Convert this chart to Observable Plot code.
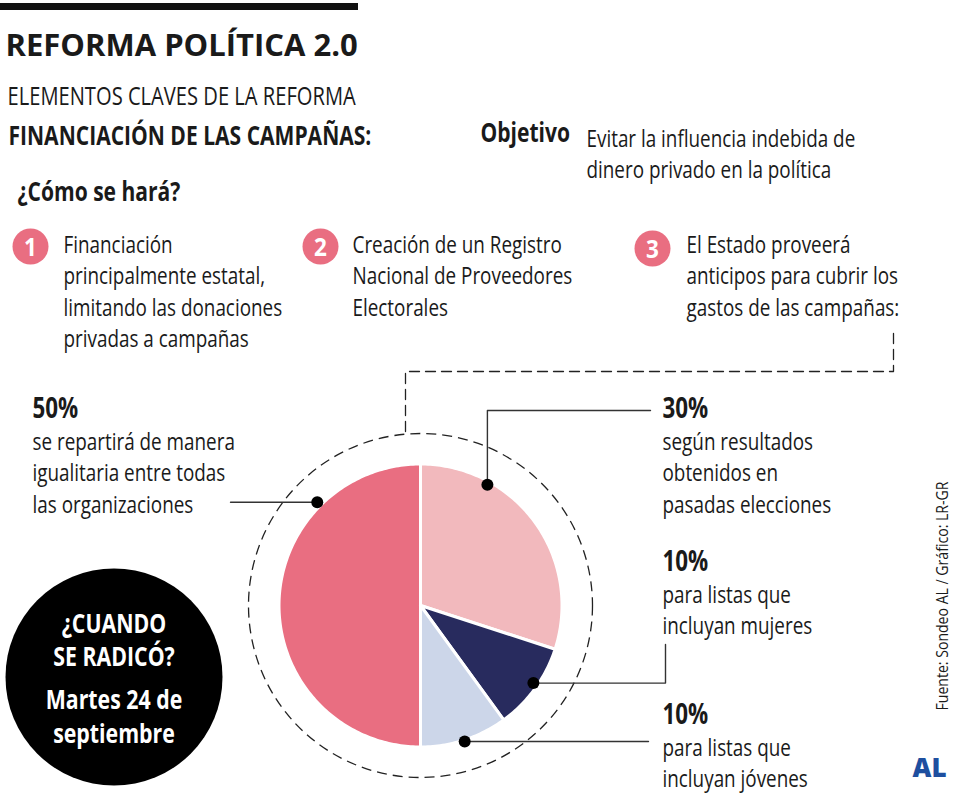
<!DOCTYPE html>
<html>
<head>
<meta charset="utf-8">
<script src="https://cdn.jsdelivr.net/npm/d3@7"></script>
<script src="https://cdn.jsdelivr.net/npm/@observablehq/plot@0.6"></script>
<style>
  html, body { margin: 0; padding: 0; background: #fff; }
  svg { display: block; }
</style>
</head>
<body>
<div id="chart"></div>
<script>
// ---------------- DATA ----------------
const categories = ["Reparto igualitario", "Resultados electorales", "Listas con mujeres", "Listas con jóvenes"];
const shares = [50, 30, 10, 10];
const shareLabels = ["50%", "30%", "10%", "10%"];
const shareDescriptions = [
  "se repartirá de manera\nigualitaria entre todas\nlas organizaciones",
  "según resultados\nobtenidos en\npasadas elecciones",
  "para listas que\nincluyan mujeres",
  "para listas que\nincluyan jóvenes"
];
const sliceColors = ["#E96E81", "#F2B9BD", "#282B5E", "#CCD6E9"];

const titleText = "REFORMA POLÍTICA 2.0";
const subtitleText = "ELEMENTOS CLAVES DE LA REFORMA";
const sectionText = "FINANCIACIÓN DE LAS CAMPAÑAS:";
const howText = "¿Cómo se hará?";
const objectiveHead = "Objetivo";
const objectiveText = "Evitar la influencia indebida de\ndinero privado en la política";
const stepNumbers = ["1", "2", "3"];
const stepTexts = [
  "Financiación\nprincipalmente estatal,\nlimitando las donaciones\nprivadas a campañas",
  "Creación de un Registro\nNacional de Proveedores\nElectorales",
  "El Estado proveerá\nanticipos para cubrir los\ngastos de las campañas:"
];
const whenText = ["¿CUANDO", "SE RADICÓ?"];
const dateText = ["Martes 24 de", "septiembre"];
const sourceText = "Fuente: Sondeo AL / Gráfico: LR-GR";
const logoText = "AL";

// ---------------- LAYOUT ----------------
const W = 960, H = 800;
const pie = {cx: 420, cy: 605, r: 141.5, ring: 172};
const ink = "#1a1a1a";
const pink = "#E96E81";

// pie geometry from the data
const arcs = d3.pie().sort(null).startAngle(Math.PI).endAngle(3 * Math.PI)(shares);
const polar = (deg, rad) => {
  const t = deg * Math.PI / 180;
  return {x: pie.cx + rad * Math.sin(t), y: pie.cy - rad * Math.cos(t)};
};
const slicePts = [];
arcs.forEach((a, i) => {
  const cat = categories[i];
  const n = Math.max(2, Math.ceil((a.endAngle - a.startAngle) / (Math.PI / 180)));
  slicePts.push({cat, x: pie.cx, y: pie.cy});
  for (let k = 0; k <= n; k++) {
    const t = a.startAngle + (a.endAngle - a.startAngle) * k / n;
    slicePts.push({cat, x: pie.cx + pie.r * Math.sin(t), y: pie.cy - pie.r * Math.cos(t)});
  }
  slicePts.push({cat, x: pie.cx, y: pie.cy});
});

// leader anchors (angle in degrees clockwise from top, radius)
const anchors = [
  {angle: 315, rad: 146},
  {angle: 29, rad: 138},
  {angle: 124.5, rad: 137},
  {angle: 162, rad: 143}
].map((a, i) => ({...polar(a.angle, a.rad), cat: categories[i]}));

const leaderPts = [];
{
  const [a0, a1, a2, a3] = anchors;
  [[a0.x, a0.y], [230, a0.y]].forEach(([x, y]) => leaderPts.push({k: 0, x, y}));
  [[a1.x, a1.y], [a1.x, 410], [650, 410]].forEach(([x, y]) => leaderPts.push({k: 1, x, y}));
  [[a2.x, a2.y], [665, a2.y], [665, 644]].forEach(([x, y]) => leaderPts.push({k: 2, x, y}));
  [[a3.x, a3.y], [648, a3.y]].forEach(([x, y]) => leaderPts.push({k: 3, x, y}));
}

const connector = [
  {x: 893, y: 333}, {x: 893, y: 371}, {x: 405, y: 371}, {x: 405, y: pie.cy - pie.ring}
];

// text line helper
function lines(text, x, y0, gap) {
  return text.split("\n").map((t, i) => ({text: t, x, y: y0 + i * gap}));
}
const gap = 31.5;
const labelPos = [
  {x: 32, y: 417}, {x: 662, y: 417}, {x: 662, y: 570}, {x: 662, y: 723}
];
const stepPos = [
  {cx: 30, cy: 246, tx: 63}, {cx: 320, cy: 246, tx: 352}, {cx: 652, cy: 248, tx: 686}
];

const regularLines = [
  ...lines(objectiveText, 586, 146, 31),
  ...stepTexts.flatMap((t, i) => lines(t, stepPos[i].tx, 252, gap)),
  ...shareDescriptions.flatMap((t, i) => lines(t, labelPos[i].x, labelPos[i].y + 32, gap))
];
const boldLines = [
  ...lines(sectionText, 8, 144, gap),
  ...lines(howText, 17, 200, gap),
  ...lines(objectiveHead, 480, 141, gap)
];
const pctLines = shareLabels.map((t, i) => ({text: t, x: labelPos[i].x, y: labelPos[i].y}));
const badge = {x: 113.5, y: 676.5, r: 108.5};
const badgeLines = [
  ...whenText.map((t, i) => ({text: t, x: badge.x, y: 632 + i * 33})),
  ...dateText.map((t, i) => ({text: t, x: badge.x, y: 708 + i * 34}))
];

const font = "'Open Sans', 'Noto Sans', sans-serif";

const chart = Plot.plot({
  width: W,
  height: H,
  margin: 0,
  x: {domain: [0, W], range: [0, W], axis: null},
  y: {domain: [0, H], range: [0, H], axis: null},
  color: {domain: categories, range: sliceColors},
  style: {fontFamily: font, background: "#fff", overflow: "visible"},
  marks: [
    // top bar
    Plot.rect([{x1: 0, x2: 358, y1: 3, y2: 10}], {x1: "x1", x2: "x2", y1: "y1", y2: "y2", fill: "#111"}),
    // title + subtitle
    Plot.text([{text: titleText, x: 5, y: 55}], {x: "x", y: "y", text: "text", textAnchor: "start", lineAnchor: "bottom", fontSize: 31, fontWeight: 700, fill: ink, className: "t-title"}),
    Plot.text([{text: subtitleText, x: 7, y: 104}], {x: "x", y: "y", text: "text", textAnchor: "start", lineAnchor: "bottom", fontSize: 26, fontWeight: 400, fill: ink, className: "t-sub"}),
    Plot.text(regularLines, {x: "x", y: "y", text: "text", textAnchor: "start", lineAnchor: "bottom", fontSize: 24.5, fontWeight: 400, fill: ink, className: "t-reg"}),
    Plot.text(boldLines, {x: "x", y: "y", text: "text", textAnchor: "start", lineAnchor: "bottom", fontSize: 26, fontWeight: 700, fill: ink, className: "t-bold"}),
    Plot.text(pctLines, {x: "x", y: "y", text: "text", textAnchor: "start", lineAnchor: "bottom", fontSize: 28, fontWeight: 700, fill: ink, className: "t-pct"}),
    // step number circles
    Plot.dot(stepPos, {x: "cx", y: "cy", r: 18, fill: pink, stroke: null}),
    Plot.text(stepPos, {x: "cx", y: (d) => d.cy + 9, text: (d, i) => stepNumbers[i], textAnchor: "middle", lineAnchor: "bottom", fontSize: 25, fontWeight: 700, fill: "#fff", className: "t-num"}),
    // dashed connector and ring
    Plot.line(connector, {x: "x", y: "y", stroke: "#222", strokeWidth: 1.3, strokeDasharray: "10,6"}),
    Plot.dot([pie], {x: "cx", y: "cy", r: pie.ring, fill: "none", stroke: "#222", strokeWidth: 1.3, strokeDasharray: "10,6"}),
    // pie slices
    Plot.line(slicePts, {x: "x", y: "y", z: "cat", fill: "cat", stroke: "#fff", strokeWidth: 3, strokeLinejoin: "round", curve: "linear"}),
    // leaders
    Plot.line(leaderPts, {x: "x", y: "y", z: "k", stroke: "#333", strokeWidth: 1.4}),
    Plot.dot(anchors, {x: "x", y: "y", r: 6, fill: "#000", stroke: null}),
    // black badge
    Plot.dot([badge], {x: "x", y: "y", r: badge.r, fill: "#000", stroke: null}),
    Plot.text(badgeLines, {x: "x", y: "y", text: "text", textAnchor: "middle", lineAnchor: "bottom", fontSize: 26, fontWeight: 700, fill: "#fff", className: "t-badge"}),
    // source (vertical)
    Plot.text([{text: sourceText, x: 947, y: 710}], {x: "x", y: "y", text: "text", rotate: -90, textAnchor: "start", lineAnchor: "bottom", fontSize: 16, fontWeight: 400, fill: ink, className: "t-src"}),
    // logo
    Plot.text([{text: logoText, x: 912, y: 776}], {x: "x", y: "y", text: "text", textAnchor: "start", lineAnchor: "bottom", fontSize: 26, fontWeight: 800, fill: "#1E4F9F", className: "t-logo"})
  ]
});

// condensed look: compress glyphs horizontally around each anchor
const squeeze = {"t-sub": 0.775, "t-reg": 0.77, "t-bold": 0.81, "t-pct": 0.8, "t-badge": 0.82, "t-src": 0.88, "t-num": 0.9};
for (const [cls, s] of Object.entries(squeeze)) {
  chart.querySelectorAll(`g.${cls} text`).forEach((t) => {
    t.setAttribute("transform", (t.getAttribute("transform") || "") + ` scale(${s},1)`);
  });
}
document.getElementById("chart").appendChild(chart);
</script>
</body>
</html>
